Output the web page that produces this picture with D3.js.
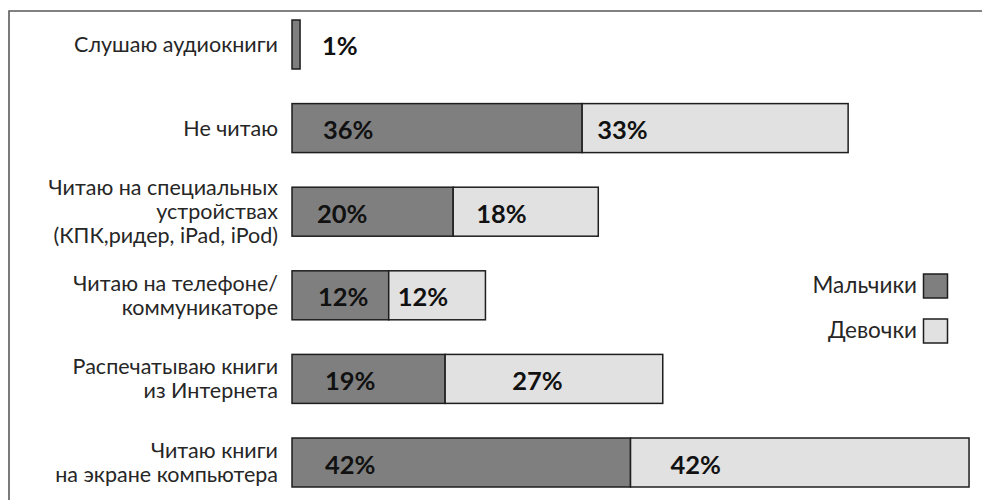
<!DOCTYPE html>
<html>
<head>
<meta charset="utf-8">
<script src="https://cdn.jsdelivr.net/npm/d3@7"></script>
<style>
  html, body { margin: 0; padding: 0; background: #fff; }
  svg { display: block; }
</style>
</head>
<body>
<svg id="chart" width="982" height="500"></svg>
<script>
// ---- data ----
const categories = [
  ["Слушаю аудиокниги"],
  ["Не читаю"],
  ["Читаю на специальных", "устройствах", "(КПК,ридер, iPad, iPod)"],
  ["Читаю на телефоне/", "коммуникаторе"],
  ["Распечатываю книги", "из Интернета"],
  ["Читаю книги", "на экране компьютера"]
];
const boys  = [1, 36, 20, 12, 19, 42];
const girls = [0, 33, 18, 12, 27, 42];
const seriesNames = ["Мальчики", "Девочки"];

// ---- layout (not data) ----
const boysLabelOffset  = [30, 31, 25, 26, 33, 33];
const girlsLabelOffset = [0, 15, 23, 9, 67, 40];
const colors = ["#7f7f7f", "#e1e1e1"];
const FONT = "Lato, 'Open Sans', sans-serif";

const svg = d3.select("#chart");
const keys = categories.map((c, i) => i);

const x = d3.scaleLinear().domain([0, 100]).range([292, 292 + 806]);
const y = d3.scaleBand().domain(keys).range([20, 487]).paddingInner(0.414).paddingOuter(0);

// frame (top + left)
svg.append("path")
  .attr("d", "M9,500 L9,11 L982,11")
  .attr("fill", "none").attr("stroke", "#5a5a5a").attr("stroke-width", 1.6);

// bars
const rows = svg.append("g").selectAll("g").data(keys).join("g");
rows.append("rect")
  .attr("x", i => x(0))
  .attr("y", i => y(i))
  .attr("width", i => x(boys[i]) - x(0))
  .attr("height", y.bandwidth())
  .attr("fill", colors[0]).attr("stroke", "#1e1e1e").attr("stroke-width", 1.5);
rows.filter(i => girls[i] > 0).append("rect")
  .attr("x", i => x(boys[i]))
  .attr("y", i => y(i))
  .attr("width", i => x(boys[i] + girls[i]) - x(boys[i]))
  .attr("height", y.bandwidth())
  .attr("fill", colors[1]).attr("stroke", "#1e1e1e").attr("stroke-width", 1.5);

// value labels
const VFS = 25.5;
rows.append("text")
  .attr("x", i => x(0) + boysLabelOffset[i])
  .attr("y", i => y(i) + y.bandwidth() / 2 + 11)
  .attr("font-family", FONT).attr("font-weight", "bold").attr("font-size", VFS)
  .attr("fill", "#111")
  .text(i => boys[i] + "%");
rows.filter(i => girls[i] > 0).append("text")
  .attr("x", i => x(boys[i]) + girlsLabelOffset[i])
  .attr("y", i => y(i) + y.bandwidth() / 2 + 11)
  .attr("font-family", FONT).attr("font-weight", "bold").attr("font-size", VFS)
  .attr("fill", "#111")
  .text(i => girls[i] + "%");

// category labels
const LH = 24;
rows.append("text")
  .attr("text-anchor", "end")
  .attr("font-family", FONT).attr("font-size", 21.5).attr("fill", "#262626")
  .each(function(i) {
    const lines = categories[i];
    const c = y(i) + y.bandwidth() / 2;
    const first = c - (lines.length - 1) * LH / 2 + 7.5;
    d3.select(this).selectAll("tspan").data(lines).join("tspan")
      .attr("x", 278)
      .attr("y", (d, k) => first + k * LH)
      .text(d => d);
  });

// legend
const legend = svg.append("g").selectAll("g").data(seriesNames).join("g")
  .attr("transform", (d, k) => `translate(0, ${274 + k * 45})`);
legend.append("rect")
  .attr("x", 923.5).attr("y", 0).attr("width", 24).attr("height", 24)
  .attr("fill", (d, k) => colors[k]).attr("stroke", "#1e1e1e").attr("stroke-width", 1.5);
legend.append("text")
  .attr("x", 917).attr("y", 19)
  .attr("text-anchor", "end")
  .attr("font-family", FONT).attr("font-size", 22.5).attr("fill", "#262626")
  .text(d => d);
</script>
</body>
</html>
